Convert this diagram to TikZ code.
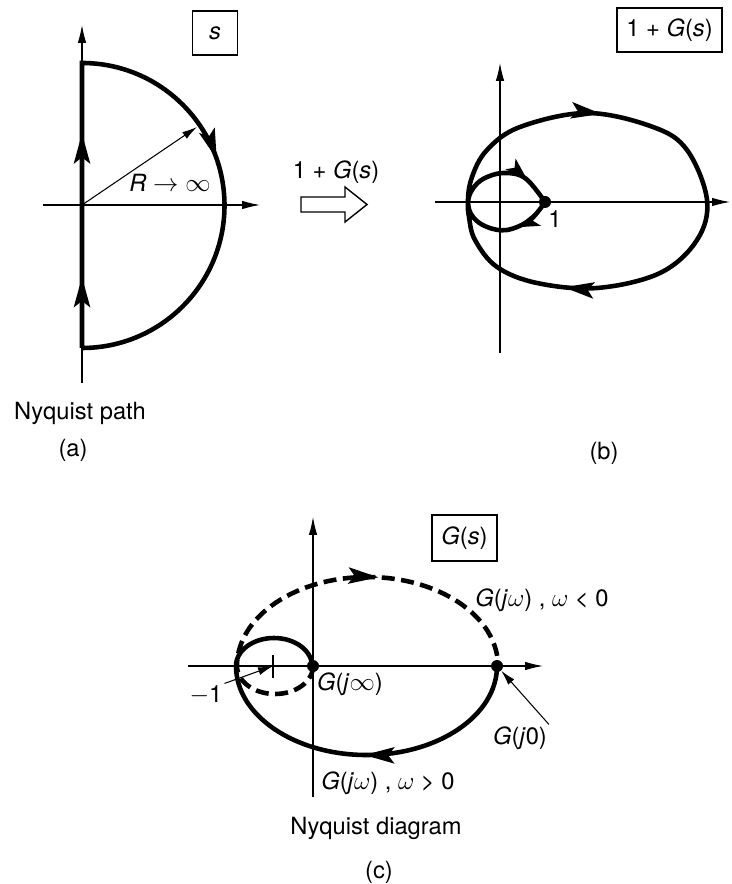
\documentclass[tikz,border=0pt]{standalone}
\usepackage{fontspec}
\setmainfont{TeX Gyre Heros}
\usetikzlibrary{arrows.meta,decorations.markings}

\tikzset{
    bighead/.tip={Stealth[length=6mm,width=3.2mm,inset=1.2mm]},
    smallhead/.tip={Stealth[length=4.6mm,width=2.8mm,inset=1mm]}
}

\begin{document}
\begin{tikzpicture}[
        x=0.02cm, y=-0.02cm,
        every node/.style={font=\fontsize{13.5}{16}\selectfont, inner sep=1pt},
        axis/.style={line width=0.6pt, -{Latex[length=3.6mm,width=1.7mm]}},
        curve/.style={line width=2.6pt},
        broken/.style={curve, dash pattern=on 2.6mm off 1.3mm},
        pointer/.style={line width=0.6pt, -{Latex[length=3mm,width=1.6mm]}},
        planebox/.style={draw, line width=1pt, minimum height=0.88cm, inner sep=4pt},
        dot/.style={circle, fill, inner sep=0pt, minimum size=0.24cm},
        tipat/.style={postaction={decorate, decoration={markings, mark=at position #1 with {\arrow{bighead}}}}},
        smalltipat/.style={postaction={decorate, decoration={markings, mark=at position #1 with {\arrow{smallhead}}}}}
    ]
        \useasboundingbox (0,0) rectangle (731,884);

        % (a) Nyquist path in the s plane
        \draw[axis] (82,383) -- (82,25);
        \draw[axis] (43,205) -- (260,205);
        \draw[curve, tipat=0.097, tipat=0.293, tipat=0.63]
            (82,348) -- (82,63) arc[start angle=-90, end angle=90, radius=142.5];
        \coordinate (origa) at (82,205);
        \coordinate (rtip) at (197,127);
        \draw[pointer] (origa) -- (rtip);
        \node (rlabel) at (170,183) {\textit{R} $\rightarrow\infty$};
        \node[planebox, minimum width=0.9cm] (splane) at (215,33) {\textit{s}};
        \node (napath) at (80,413) {Nyquist path};
        \node (capa) at (73,450) {(a)};

        % mapping arrow
        \node (maplabel) at (336,172) {1 + \textit{G}(\textit{s})};
        \draw[line width=0.8pt] (301,197) -- (345,197) -- (345,187) -- (367,204.5)
            -- (345,222) -- (345,212) -- (301,212) -- cycle;

        % (b) image under 1+G(s)
        \draw[axis] (500,353) -- (500,63);
        \draw[axis] (435,202) -- (730,202);
        \node[planebox, minimum width=2.1cm] (gplane) at (669.5,30) {1 + \textit{G}(\textit{s})};
        \draw[curve, smalltipat=0.045, tipat=0.325, tipat=0.715, smalltipat=0.968]
            plot[smooth, tension=0.6] coordinates {
                (545,202) (530,220) (507,230) (487,227) (473,217) (468,202)
                (472,177) (487,150) (520,127) (587,113) (653,127) (687,150)
                (707,200) (697,240) (660,273) (597,288) (537,283) (497,267)
                (475,240) (469,217) (468,202) (472,190) (483,179) (503,173)
                (525,178) (545,202)};
        \node[dot] (one) at (545,202) {};
        \node (onelabel) at (555,219) {1};
        \node (capb) at (604,453) {(b)};

        % (c) Nyquist diagram of G(s)
        \draw[axis] (313,797) -- (313,517);
        \draw[axis] (188,666) -- (543,666);
        \node[planebox, minimum width=1.3cm, minimum height=0.92cm] (hplane) at (464.5,538) {\textit{G}(\textit{s})};
        \draw[line width=0.8pt] (273,655) -- (273,678);
        \coordinate (mone) at (273,666);
        \draw[broken, tipat=0.64] (313,666)
            arc[start angle=0, end angle=180, x radius=38, y radius=28]
            arc[start angle=180, end angle=360, x radius=130.5, y radius=89];
        \draw[curve, tipat=0.39] (497,666)
            arc[start angle=0, end angle=180, x radius=130.5, y radius=89]
            arc[start angle=180, end angle=360, x radius=38, y radius=28];
        \node[dot] (gzero) at (497,666) {};
        \node[dot] (ginf) at (313,666) {};
        \node (lblneg) at (542,600) {\textit{G}(\textit{j}$\omega$) , $\omega$ < 0};
        \node (lblpos) at (388,783) {\textit{G}(\textit{j}$\omega$) , $\omega$ > 0};
        \node (lblinf) at (350,684) {\textit{G}(\textit{j}$\infty$)};
        \node (lblzero) at (520,738) {\textit{G}(\textit{j}0)};
        \node (lblmone) at (206,695) {$-$1};
        \draw[pointer] (lblmone.north east) -- (mone);
        \draw[pointer] (lblzero.north east) -- (gzero);
        \node (ndiag) at (376,828) {Nyquist diagram};
        \node (capc) at (379,872) {(c)};
\end{tikzpicture}
\end{document}
